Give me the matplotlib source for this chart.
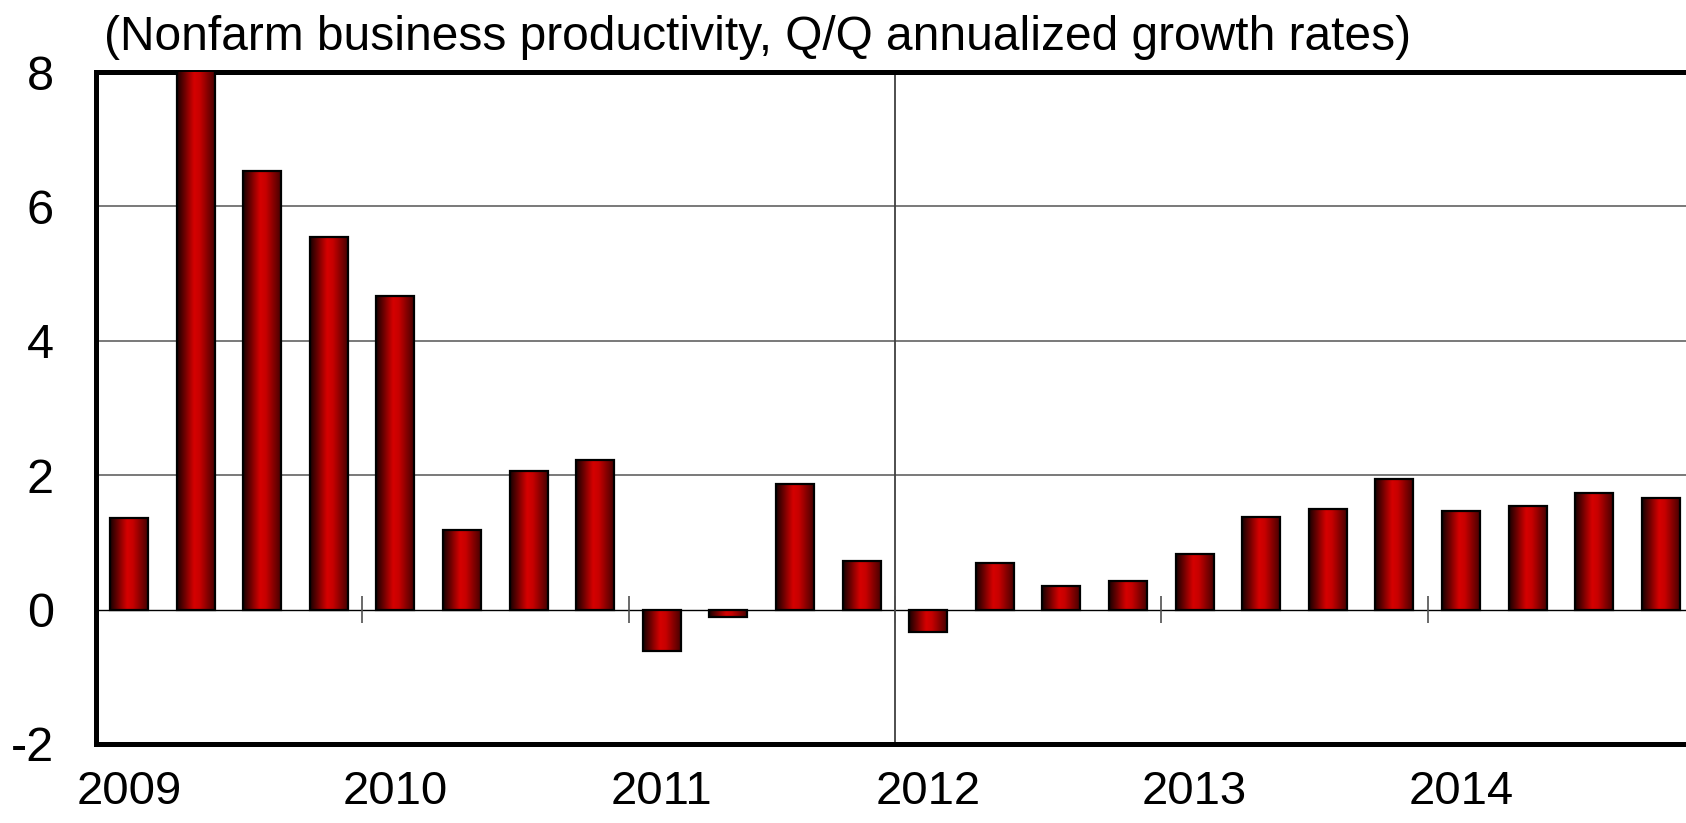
import numpy as np
import matplotlib
matplotlib.use('Agg')
import matplotlib.pyplot as plt
from matplotlib.colors import LinearSegmentedColormap

plt.rcParams['font.family'] = ['Liberation Sans', 'DejaVu Sans']

# Nonfarm business productivity, Q/Q annualized, 2009Q1 - 2014Q4
years = [2009, 2010, 2011, 2012, 2013, 2014]
quarters = ['Q1', 'Q2', 'Q3', 'Q4']
growth = [1.36, 8.3, 6.53, 5.54,
          4.66, 1.18, 2.06, 2.22,
          -0.61, -0.11, 1.87, 0.72,
          -0.34, 0.70, 0.35, 0.42,
          0.82, 1.38, 1.50, 1.94,
          1.47, 1.54, 1.74, 1.66]
yticks = [-2, 0, 2, 4, 6, 8]

title = '(Nonfarm business productivity, Q/Q annualized growth rates)'

fig = plt.figure(figsize=(16.86, 8.23), dpi=100)
ax = fig.add_axes([0.0568, 0.096, 0.948, 0.8165])

x = np.arange(len(growth)) + 0.5
bw = 0.57

# cylinder-like shading of the bars
shade = LinearSegmentedColormap.from_list(
    'cyl', [(0.0, '#1a0000'), (0.45, '#d60000'), (0.6, '#c80000'), (1.0, '#4a0000')])
grad = np.linspace(0, 1, 64).reshape(1, -1)

bars = ax.bar(x, growth, width=bw, color='none', edgecolor='black',
              linewidth=1.6, zorder=4)
for b in bars:
    x0, y0 = b.get_x(), b.get_y()
    w, h = b.get_width(), b.get_height()
    ax.imshow(grad, extent=[x0, x0 + w, y0, y0 + h], aspect='auto',
              cmap=shade, interpolation='bicubic', zorder=3)

# grid
for g in [2, 4, 6]:
    ax.axhline(g, color='#6e6e6e', lw=1.3, zorder=1)
ax.axhline(0, color='black', lw=1.0, zorder=2)
ax.axvline(12, color='#404040', lw=1.3, zorder=1)

# small year-boundary marks on the zero line
bounds = [4 * i for i in range(1, len(years))]
ax.vlines(bounds, -0.2, 0.2, color='#505050', lw=1.2, zorder=2)

ax.set_xlim(0, len(growth))
ax.set_ylim(-2, 8)
ax.set_yticks(yticks)
ax.set_yticklabels([str(t) for t in yticks], fontsize=35)
ax.set_xticks([4 * i + 0.5 for i in range(len(years))])
ax.set_xticklabels([str(y) for y in years], fontsize=34)
ax.tick_params(axis='both', length=0)
ax.tick_params(axis='y', pad=30)
ax.tick_params(axis='x', pad=19)

for s in ['left', 'bottom', 'top', 'right']:
    ax.spines[s].set_linewidth(3.6)
    ax.spines[s].set_color('black')

fig.text(0.0617, 0.939, title, fontsize=34.5, ha='left', va='baseline')

fig.savefig('out.png', dpi=100)
